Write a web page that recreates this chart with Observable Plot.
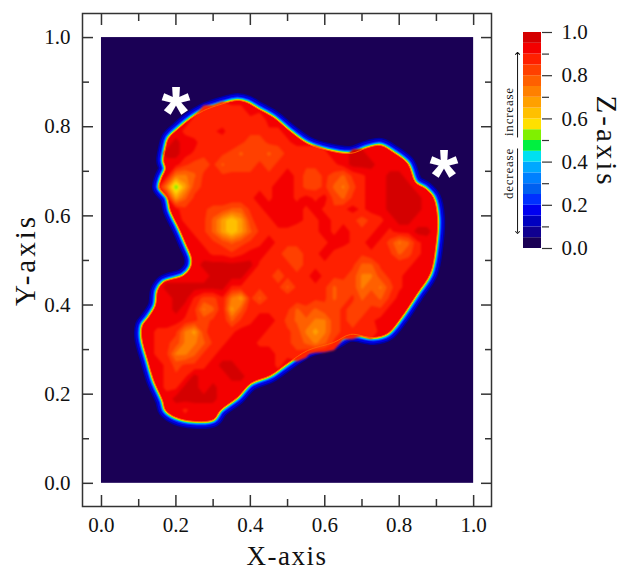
<!DOCTYPE html>
<html>
<head>
<meta charset="utf-8">
<style>
html,body{margin:0;padding:0;background:#fff;}
#wrap{position:relative;width:623px;height:575px;overflow:hidden;}
#wrap svg{position:absolute;top:0;}
.wide text{letter-spacing:1.5px;}
.tall text{letter-spacing:3px;}
.small text{letter-spacing:.8px;}
.soft{filter:blur(1.2px);}
</style>
<script src="https://cdn.jsdelivr.net/npm/d3@7"></script>
<script src="https://cdn.jsdelivr.net/npm/@observablehq/plot@0.6"></script>
</head>
<body>
<div id="wrap"></div>
<script>
const xTitle = "X-axis", yTitle = "Y-axis", zTitle = "Z-axis";
const majorTicks = [0, 0.2, 0.4, 0.6, 0.8, 1];
const minorTicks = [0.1, 0.3, 0.5, 0.7, 0.9];

// Colour bar bands, bottom (0.0) to top (1.0), each 0.05 wide
const bandColors = ["#1a0055","#100090","#0000c0","#0000f0","#0030ff","#0060f0","#0080ff","#00a8ff","#00e0f0","#00f040",
                    "#80f000","#ffe000","#ffc000","#ffa000","#ff8000","#ff6000","#ff4000","#ff2000","#f40000","#d40000"];
const bandLows = bandColors.map((_, i) => i / 20);

// Blob boundary
const outlineX = [.366,.320,.274,.239,.207,.180,.172,.167,.172,.161,.156,.177,.185,.207,.226,.242,.239,.220,.167,.151,.145,.126,.110,.108,.124,.140,.164,.172,.199,.247,.301,.320,.366,.401,.454,.500,.554,.624,.669,.731,.769,.804,.849,.884,.898,.903,.892,.871,.844,.823,.785,.750,.715,.669,.608,.554,.508,.462,.419,.392];
const outlineY = [.859,.850,.836,.818,.796,.774,.751,.724,.706,.684,.664,.641,.612,.574,.538,.504,.484,.466,.451,.433,.399,.372,.354,.327,.276,.231,.186,.164,.148,.139,.143,.164,.193,.224,.242,.269,.298,.316,.334,.327,.336,.370,.426,.471,.529,.596,.641,.661,.675,.717,.742,.758,.753,.740,.747,.762,.789,.821,.841,.854];
const outline = outlineX.map((x, i) => ({x, y: outlineY[i]}));

// Halo around the blob, outermost first
const haloWidths = [15, 12, 8, 6, 4, 3, 2];
const haloColors = ["#0000a0","#0000e0","#0030ff","#0090ff","#00e0c0","#80f000","#ffd000"];

// Interior field: one digit per cell, z = digitZ[digit].
// Columns x = 0.10 ... 0.90 step 0.025, rows y = 0.865 ... 0.14 step 0.025.
const digitZ = [0.97, 0.92, 0.89, 0.86, 0.83, 0.79, 0.74, 0.68, 0.60, 0.50];
const fieldRows = [
"1",
"111111122322",
"1111112233222311",
"11111233213333221",
"11110113332344332111",
"111001233345445433332110011",
"111113443544434323332210001",
"11116653333333321244345321100",
"111697433232322112443564211000",
"1111753322222121121214532110000",
"1111133344553211112123212110000",
"1111122357874221112212234321001",
"11111123578753222332121232121100",
"11111112345432123332211221246521",
"11111111223211234432123232235421",
"1111111000000223343223235532221",
"1111111100002234332123346643211",
"111000000022333353323544656421",
"11110024426735322223354354531",
"1111013652752223354544344331",
"111112343253211245566434321",
"112236742221112234676433231",
"1123466532111223345653",
"1123665321111112232",
"1112433210011112",
"11123201110011",
"1112200101",
"1111000001",
"111112",
"1"
];
const fieldCols = 33;
const fieldZ = fieldRows.flatMap(r => Array.from(r.padEnd(fieldCols, "1").slice(0, fieldCols), c => digitZ[+c]));
const fieldBox = {width: fieldCols, height: fieldRows.length, x1: 0.0875, x2: 0.9125, y1: 0.8775, y2: 0.1275, className: "soft"};

const starX = [0.2, 0.92], starY = [0.85, 0.71];

const serif = "'Liberation Serif', 'Times New Roman', serif";
const ink = "#333";
const tickStyle = {stroke: ink, strokeWidth: 1.5, fill: "none", label: null};

// Band overlays: orange and yellow patches, drawn from the red base upward
const overlayBands = bandLows.map((lo, i) => ({lo, color: bandColors[i]})).filter(b => b.lo >= 0.45 && b.lo < 0.9).reverse();

const main = Plot.plot({
  width: 623, height: 575,
  marginLeft: 82, marginRight: 132, marginTop: 13, marginBottom: 69,
  x: {domain: [-0.051, 1.048]},
  y: {domain: [-0.052, 1.054]},
  style: {fontFamily: serif, background: "transparent"},
  marks: [
    Plot.rect([0], {x1: 0, x2: 1, y1: 0, y2: 1, fill: bandColors[0]}),
    ...haloWidths.map((w, i) => Plot.line(outline, {x: "x", y: "y", curve: "catmull-rom-closed", stroke: haloColors[i], strokeWidth: w, strokeLinejoin: "round"})),
    Plot.line(outline, {x: "x", y: "y", curve: "catmull-rom-closed", fill: bandColors[18], stroke: "none"}),
    Plot.contour(fieldZ, {...fieldBox, value: z => z, thresholds: [0.95], fill: bandColors[19]}),
    ...overlayBands.map(b => Plot.contour(fieldZ, {...fieldBox, value: z => 1 - z, thresholds: [1 - (b.lo + 0.05)], fill: b.color})),
    Plot.line(outline, {x: "x", y: "y", curve: "catmull-rom-closed", stroke: "#ff6000", strokeWidth: 1}),
    Plot.text(starX, {x: d => d, y: (d, i) => starY[i], text: () => "*", fill: "white", fontSize: 74, fontWeight: "bold", fontFamily: "'Liberation Sans'", dy: 10}),
    Plot.frame({stroke: ink, strokeWidth: 1.5}),
    Plot.axisX(majorTicks, {anchor: "bottom", tickSize: -11, ...tickStyle}),
    Plot.axisX(minorTicks, {anchor: "bottom", tickSize: -7, ...tickStyle}),
    Plot.axisX(majorTicks, {anchor: "top", tickSize: -11, ...tickStyle}),
    Plot.axisX(minorTicks, {anchor: "top", tickSize: -7, ...tickStyle}),
    Plot.axisY(majorTicks, {anchor: "left", tickSize: -11, ...tickStyle}),
    Plot.axisY(minorTicks, {anchor: "left", tickSize: -7, ...tickStyle}),
    Plot.axisY(majorTicks, {anchor: "right", tickSize: -11, ...tickStyle}),
    Plot.axisY(minorTicks, {anchor: "right", tickSize: -7, ...tickStyle}),
    Plot.axisX(majorTicks, {anchor: "bottom", tickSize: 0, tickPadding: 11, fontSize: 21, fill: "#111", tickFormat: d3.format(".1f"), label: null}),
    Plot.axisY(majorTicks, {anchor: "left", tickSize: 0, tickPadding: 12, fontSize: 21, fill: "#111", tickFormat: d3.format(".1f"), label: null}),
    Plot.text([xTitle], {frameAnchor: "bottom", dy: 58, text: d => d, fontSize: 27, fill: "#111", className: "wide"}),
    Plot.text([yTitle], {frameAnchor: "left", textAnchor: "middle", dx: -57, text: d => d, fontSize: 29, fill: "#111", rotate: -90, className: "tall"})
  ]
});

const bar = Plot.plot({
  width: 123, height: 575,
  marginLeft: 23, marginRight: 82, marginTop: 32, marginBottom: 327,
  x: {domain: [0, 1], axis: null},
  y: {domain: [0, 1], axis: null},
  style: {fontFamily: serif, background: "transparent"},
  marks: [
    Plot.rect(bandLows, {x1: 0, x2: 1, y1: d => d, y2: d => d + 0.05, fill: (d, i) => bandColors[i]}),
    Plot.axisY(majorTicks, {anchor: "right", tickSize: 10, tickPadding: 10, stroke: ink, strokeWidth: 1.2, fontSize: 21, fill: "#111", tickFormat: d3.format(".1f"), label: null}),
    Plot.axisY(minorTicks, {anchor: "right", tickSize: 7, stroke: ink, strokeWidth: 1.2, fill: "none", label: null}),
    Plot.link([0], {x1: -0.33, x2: -0.33, y1: 0.514, y2: 0.903, stroke: "#111", strokeWidth: 1, markerEnd: "arrow"}),
    Plot.link([0], {x1: -0.33, x2: -0.33, y1: 0.463, y2: 0.074, stroke: "#111", strokeWidth: 1, markerEnd: "arrow"}),
    Plot.text(["increase"], {x: -0.8, y: 0.634, text: d => d, rotate: -90, fontSize: 13, fill: "#111", className: "small"}),
    Plot.text(["decrease"], {x: -0.8, y: 0.347, text: d => d, rotate: -90, fontSize: 13, fill: "#111", className: "small"}),
    Plot.text([zTitle], {x: 4.6, y: 0.495, text: d => d, rotate: 90, fontSize: 29, fill: "#111", className: "tall"})
  ]
});

const wrap = document.getElementById("wrap");
main.style.left = "0px";
bar.style.left = "500px";
bar.style.overflow = "visible";
wrap.append(main, bar);
</script>
</body>
</html>
